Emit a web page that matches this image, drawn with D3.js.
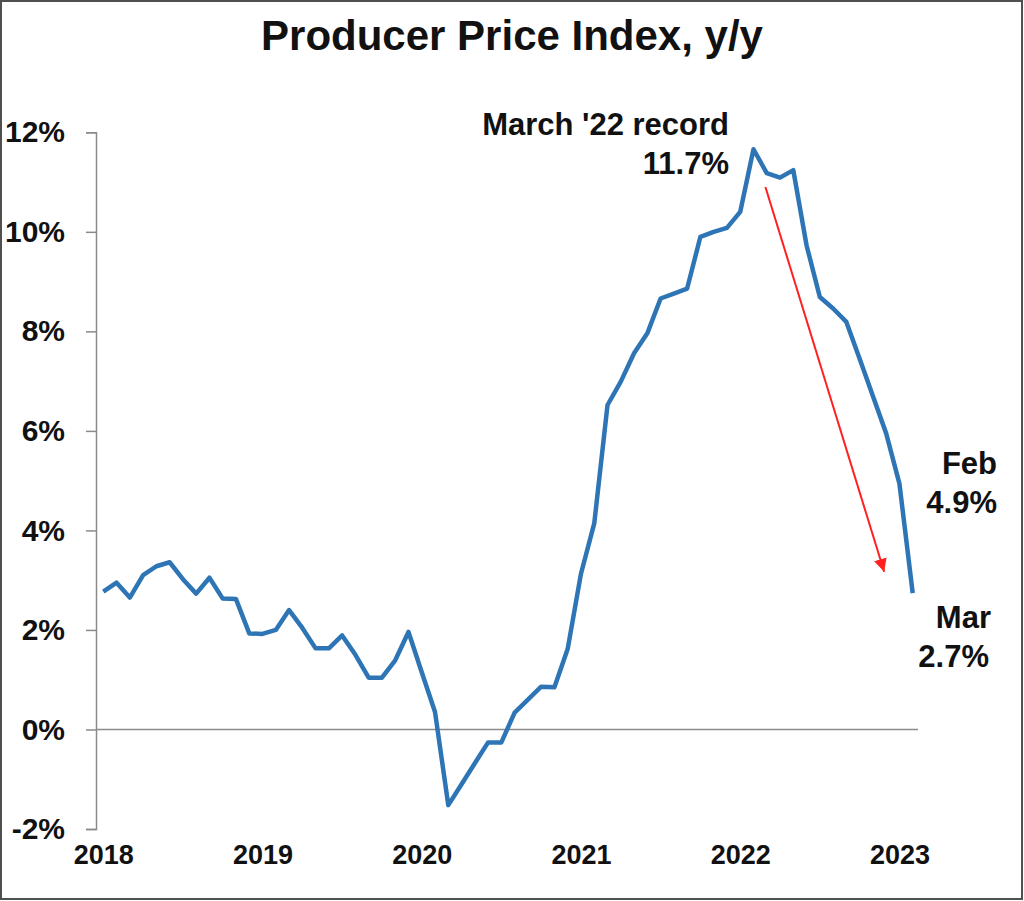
<!doctype html>
<html lang="en">

<head>
  <meta charset="UTF-8">
  <title>Producer Price Index, y/y</title>
  <style type="text/css">
    * {
      padding: 0;
      margin: 0;
    }

    body {
      background: #fff;
    }

    text {
      font-family: "Liberation Sans", Arial, sans-serif;
      font-weight: bold;
      fill: #111;
    }

    .axis path,
    .axis line {
      stroke: #8a8a8a;
      stroke-width: 1.5;
    }
  </style>
  <script src="https://cdn.jsdelivr.net/npm/d3@7/dist/d3.min.js"></script>
</head>

<body>
  <svg width="1024" height="901"></svg>

  <script>
    // monthly y/y values, Feb 2018 .. Mar 2023
    var ppi = [2.77, 2.95, 2.65, 3.10, 3.28, 3.36, 3.02, 2.73, 3.05, 2.63, 2.62, 1.93,
      1.92, 2.00, 2.40, 2.04, 1.63, 1.63, 1.89, 1.50, 1.04, 1.04, 1.39, 1.96,
      1.15, 0.35, -1.52, -1.10, -0.68, -0.26, -0.26, 0.34, 0.60, 0.86, 0.85, 1.62,
      3.13, 4.14, 6.52, 6.99, 7.56, 7.96, 8.66, 8.76, 8.86, 9.90, 10.00, 10.08,
      10.40, 11.66, 11.18, 11.09, 11.24, 9.73, 8.69, 8.46, 8.19, 7.45, 6.70, 5.95,
      4.94, 2.74];
    var yearLabels = ["2018", "2019", "2020", "2021", "2022", "2023"];
    var yearIndex = [0, 12, 24, 36, 48, 60];
    var yTicks = [-2, 0, 2, 4, 6, 8, 10, 12];
    // arrow: [index, value] start and end
    var arrowFrom = [49.9, 10.9];
    var arrowTo = [58.85, 3.17];

    var svg = d3.select("svg");

    svg.append("rect")
      .attr("x", 1).attr("y", 1)
      .attr("width", 1021).attr("height", 898)
      .attr("fill", "#fff")
      .attr("stroke", "#505050")
      .attr("stroke-width", 2);

    var x = d3.scaleLinear()
      .domain([0, ppi.length - 1])
      .range([103.3, 912.7]);

    var y = d3.scaleLinear()
      .domain([-2, 12])
      .range([829, 132.3]);

    svg.append("text")
      .attr("x", 512)
      .attr("y", 50)
      .attr("text-anchor", "middle")
      .style("font-size", "42px")
      .text("Producer Price Index, y/y");

    // zero line
    svg.append("line")
      .attr("x1", 96).attr("x2", 918)
      .attr("y1", y(0)).attr("y2", y(0))
      .attr("stroke", "#8a8a8a")
      .attr("stroke-width", 1.5);

    var yAxis = d3.axisLeft(y)
      .tickValues(yTicks)
      .tickSize(10)
      .tickPadding(21)
      .tickFormat(function (d) { return d + "%"; });

    var gy = svg.append("g")
      .attr("class", "axis")
      .attr("transform", "translate(96,0)")
      .call(yAxis);
    gy.selectAll("text")
      .style("font-size", "30px")
      .attr("fill", "#111");

    var xAxis = d3.axisBottom(x)
      .tickValues(yearIndex)
      .tickSize(0)
      .tickPadding(0)
      .tickFormat(function (d, i) { return yearLabels[i]; });

    var gx = svg.append("g")
      .attr("class", "axis")
      .attr("transform", "translate(0,845)")
      .call(xAxis);
    gx.select(".domain").remove();
    gx.selectAll("text")
      .style("font-size", "27px")
      .attr("fill", "#111");

    var line = d3.line()
      .x(function (d, i) { return x(i); })
      .y(function (d) { return y(d); });

    svg.append("path")
      .datum(ppi)
      .attr("d", line)
      .attr("fill", "none")
      .attr("stroke", "#2e75b6")
      .attr("stroke-width", 4.5)
      .attr("stroke-linejoin", "round");

    // red arrow
    svg.append("defs").append("marker")
      .attr("id", "head")
      .attr("viewBox", "0 0 10 10")
      .attr("refX", 10).attr("refY", 5)
      .attr("markerWidth", 6.5).attr("markerHeight", 6.5)
      .attr("markerUnits", "strokeWidth")
      .attr("orient", "auto")
      .append("path")
      .attr("d", "M0,0L10,5L0,10Z")
      .attr("fill", "#ff2020");

    svg.append("line")
      .attr("x1", x(arrowFrom[0])).attr("y1", y(arrowFrom[1]))
      .attr("x2", x(arrowTo[0])).attr("y2", y(arrowTo[1]))
      .attr("stroke", "#ff2020")
      .attr("stroke-width", 2)
      .attr("marker-end", "url(#head)");

    // annotations
    var notes = [
      { t: "March '22 record", x: 729, y: 135 },
      { t: "11.7%", x: 729, y: 174 },
      { t: "Feb", x: 997, y: 474 },
      { t: "4.9%", x: 997, y: 513 },
      { t: "Mar", x: 991, y: 628 },
      { t: "2.7%", x: 989, y: 667 }
    ];
    svg.selectAll("text.note")
      .data(notes)
      .enter()
      .append("text")
      .attr("class", "note")
      .attr("x", function (d) { return d.x; })
      .attr("y", function (d) { return d.y; })
      .attr("text-anchor", "end")
      .style("font-size", "31px")
      .text(function (d) { return d.t; });
  </script>
</body>

</html>
